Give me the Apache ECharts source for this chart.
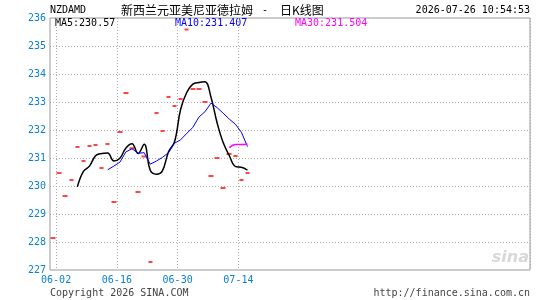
<!DOCTYPE html>
<html><head><meta charset="utf-8">
<script src="https://cdn.jsdelivr.net/npm/echarts@6/dist/echarts.min.js"></script>
<style>html,body{margin:0;padding:0;background:#fff}#c{width:545px;height:300px}</style>
</head><body><div id="c"></div>
<script>
// ---- data ----
const categories = [
  '06-01','06-02','06-03','06-04','06-05',
  '06-08','06-09','06-10','06-11','06-12',
  '06-15','06-16','06-17','06-18','06-19',
  '06-22','06-23','06-24','06-25','06-26',
  '06-29','06-30','07-01','07-02','07-03',
  '07-06','07-07','07-08','07-09','07-10',
  '07-13','07-14','07-15'
];
const closes = [
  228.14, 230.46, 229.64, 230.21, 231.39,
  230.89, 231.43, 231.46, 230.64, 231.50,
  229.43, 231.93, 233.32, 231.35, 229.79,
  231.05, 227.29, 232.61, 231.96, 233.18,
  232.86, 233.11, 235.59, 233.46, 233.46,
  233.00, 230.36, 231.00, 229.93, 231.14,
  231.07, 230.21, 230.46
];
// moving-average lines (first value belongs to day index period-1)
const ma5Values = [
  229.97, 230.52, 230.71, 231.08, 231.16, 231.18, 230.89, 230.99, 231.36, 231.51,
  231.16, 231.49, 230.56, 230.42, 230.54, 231.22, 231.58, 232.74, 233.34, 233.64,
  233.70, 233.72, 233.17, 232.26, 231.55, 231.09, 230.70, 230.67, 230.57
];
const ma10Values = [
  230.58, 230.71, 230.85, 231.22, 231.33, 231.17, 231.19, 230.78, 230.89, 231.02,
  231.19, 231.53, 231.65, 231.88, 232.09, 232.46, 232.65, 232.96, 232.80, 232.60,
  232.39, 232.21, 231.92, 231.41
];
const ma30Values = [231.37, 231.48, 231.48, 231.50];
const maPeriods = [5, 10, 30];
const tickLabels = ['06-02', '06-16', '06-30', '07-14'];
const yMin = 227, yMax = 236, yStep = 1;
const symbolName = 'NZDAMD';
const titleName = '新西兰元亚美尼亚德拉姆';
const titleSuffix = '日K线图';
const stamp = '2026-07-26 10:54:53';
const legendTexts = ['MA5:230.57', 'MA10:231.407', 'MA30:231.504'];
const copyright = 'Copyright 2026 SINA.COM';
const siteUrl = 'http://finance.sina.com.cn';

// ---- build ----
const TOTAL_SLOTS = 79;
const axisCats = categories.slice();
for (let i = axisCats.length; i < TOTAL_SLOTS; i++) axisCats.push('_' + i);
const pad = (arr, period) => Array(period - 1).fill('-').concat(arr);
const isTick = (i, v) => tickLabels.indexOf(v) >= 0;

const MONO = 'DejaVu Sans Mono';
const BLUE = '#0a80d6';
const RED = '#ff4444';
const chart = echarts.init(document.getElementById('c'), null, {renderer: 'canvas'});
chart.setOption({
  animation: false,
  backgroundColor: '#fff',
  grid: {left: 50, top: 18, width: 480, height: 252, show: true, borderColor: '#999', borderWidth: 1, backgroundColor: 'transparent'},
  xAxis: {
    type: 'category', data: axisCats, boundaryGap: true,
    axisLine: {show: false}, axisTick: {show: false},
    splitLine: {show: true, interval: isTick, lineStyle: {color: '#aaa', type: [1, 2], width: 1}},
    axisLabel: {interval: isTick, color: BLUE, fontFamily: MONO, fontSize: 10, margin: 5, padding: [0, 6, 0, 0]}
  },
  yAxis: {
    type: 'value', min: yMin, max: yMax, interval: yStep,
    axisLine: {show: false}, axisTick: {show: false},
    splitLine: {show: true, showMinLine: false, showMaxLine: false, lineStyle: {color: '#aaa', type: [1, 2], width: 1}},
    axisLabel: {color: BLUE, fontFamily: MONO, fontSize: 10, margin: 4}
  },
  series: [
    {
      type: 'candlestick', barWidth: 5,
      data: closes.map(v => [v, v, v, v]),
      itemStyle: {color: RED, color0: RED, borderColor: RED, borderColor0: RED, borderWidth: 2}
    },
    {type: 'line', data: pad(ma5Values, maPeriods[0]), showSymbol: false, smooth: 0.4, lineStyle: {color: '#000', width: 1.5}, z: 3},
    {type: 'line', data: pad(ma10Values, maPeriods[1]), showSymbol: false, lineStyle: {color: '#0000ff', width: 1}, z: 4},
    {type: 'line', data: pad(ma30Values, maPeriods[2]), showSymbol: false, smooth: 0.4, lineStyle: {color: '#ff00ff', width: 1.5}, z: 4}
  ],
  graphic: [
    {type: 'text', left: 50, top: 5, style: {text: symbolName, font: '10px "' + MONO + '"', fill: '#000'}},
    {type: 'text', left: 121, top: 4, style: {text: titleName, font: '12px "Noto Sans CJK SC"', fill: '#000'}},
    {type: 'text', left: 262, top: 5, style: {text: '-', font: '10px "' + MONO + '"', fill: '#000'}},
    {type: 'text', left: 280, top: 4, style: {text: titleSuffix, font: '12px "Noto Sans CJK SC"', fill: '#000'}},
    {type: 'text', right: 15, top: 5, style: {text: stamp, font: '10px "' + MONO + '"', fill: '#000'}},
    {type: 'text', left: 55, top: 18, style: {text: legendTexts[0], font: '10px "' + MONO + '"', fill: '#000'}},
    {type: 'text', left: 175, top: 18, style: {text: legendTexts[1], font: '10px "' + MONO + '"', fill: '#0000ff'}},
    {type: 'text', left: 295, top: 18, style: {text: legendTexts[2], font: '10px "' + MONO + '"', fill: '#ff00ff'}},
    {type: 'text', left: 50, top: 288, style: {text: copyright, font: '10px "' + MONO + '"', fill: '#444'}},
    {type: 'text', right: 15, top: 288, style: {text: siteUrl, font: '10px "' + MONO + '"', fill: '#444'}},
    {type: 'text', right: 16, top: 250, style: {text: 'sina', font: 'italic bold 16px "DejaVu Sans"', fill: '#d8d8d8'}}
  ]
});
</script></body></html>
